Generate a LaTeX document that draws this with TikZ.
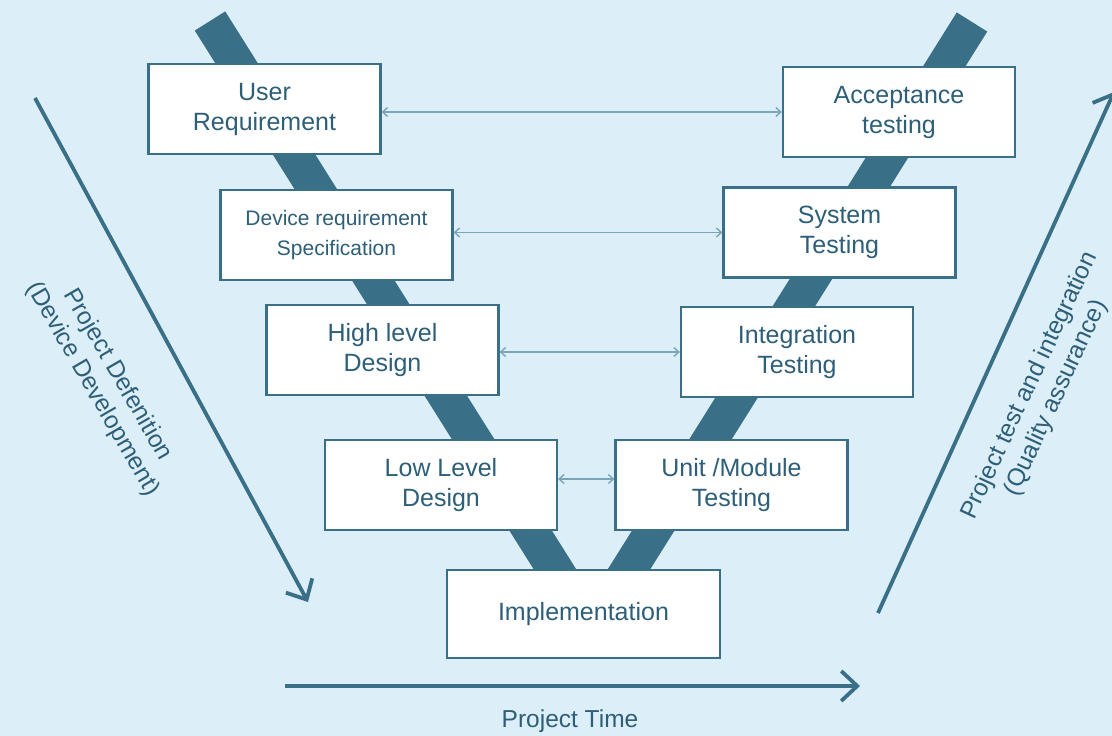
\documentclass[tikz,border=0pt]{standalone}
\usepackage{fontspec}
\setmainfont{Liberation Sans}
\usetikzlibrary{arrows.meta}
\definecolor{bg}{HTML}{DCEEF8}
\definecolor{band}{HTML}{3A6F88}
\definecolor{txt}{HTML}{2E5F78}
\definecolor{conn}{HTML}{7AA6BC}
\begin{document}
\begin{tikzpicture}[x=1pt,y=-1pt,
  box/.style={draw=band, line width=2.2pt, fill=white, text=txt, align=center,
    font=\fontsize{25}{30}\selectfont, inner sep=0pt,
    minimum width=232pt, minimum height=90pt},
  vband/.style={draw=band, line width=36pt},
  bigarrow/.style={draw=band, line width=3.8pt, -{Straight Barb[length=16pt,width=30pt,line width=3.8pt]}},
  dbl/.style={draw=conn, line width=1.4pt, {Straight Barb[length=5pt,width=9pt]}-{Straight Barb[length=5pt,width=9pt]}},
  sidetext/.style={text=txt, align=center, font=\fontsize{24.5}{29}\selectfont}]
\useasboundingbox (0,0) rectangle (1112,736);
\fill[bg] (0,0) rectangle (1112,736);
% V bands
\draw[vband] (210,21) -- (568,590);
\draw[vband] (972,22) -- (616,590);
% boxes
\node[box] (ur) at (264.5,109) {User\\Requirement};
\node[box, font=\fontsize{21}{30}\selectfont] (ds) at (336.5,235) {Device requirement\\Specification};
\node[box] (hl) at (382.5,350) {High level\\Design};
\node[box] (ll) at (441,485) {Low Level\\Design};
\node[box, minimum width=273pt, minimum height=88pt] (im) at (583.5,614) {Implementation};
\node[box] (ut) at (731.5,485) {Unit /Module\\Testing};
\node[box] (it) at (797,352) {Integration\\Testing};
\node[box] (st) at (839.5,232.5) {System\\Testing};
\node[box] (at) at (899,112) {Acceptance\\testing};
% connectors
\draw[dbl] (at.west -| ur.east) -- (at.west);
\draw[dbl] (st.west -| ds.east) -- (st.west);
\draw[dbl] ([yshift=-2pt]hl.east) -- ([yshift=-2pt]hl.east -| it.west);
\draw[dbl] ([yshift=6pt]ll.east) -- ([yshift=6pt]ut.west);
% side arrows
\coordinate (la1) at (35,98);
\coordinate (la2) at (308,602);
\draw[bigarrow] (la1) -- (la2);
\coordinate (ra1) at (878,613);
\coordinate (ra2) at (1114,92);
\draw[bigarrow] (ra1) -- (ra2);
\coordinate (ta1) at (285,686);
\coordinate (ta2) at (860,686);
\draw[bigarrow] (ta1) -- (ta2);
% labels
\node[sidetext, rotate=-60] (lt) at (105,382) {Project Defenition\\(Device Development)};
\node[sidetext, rotate=65] (rt) at (1043,392) {Project test and integration\\(Quality assurance)};
\node[sidetext] (pt) at (570,721) {Project Time};
\end{tikzpicture}
\end{document}
